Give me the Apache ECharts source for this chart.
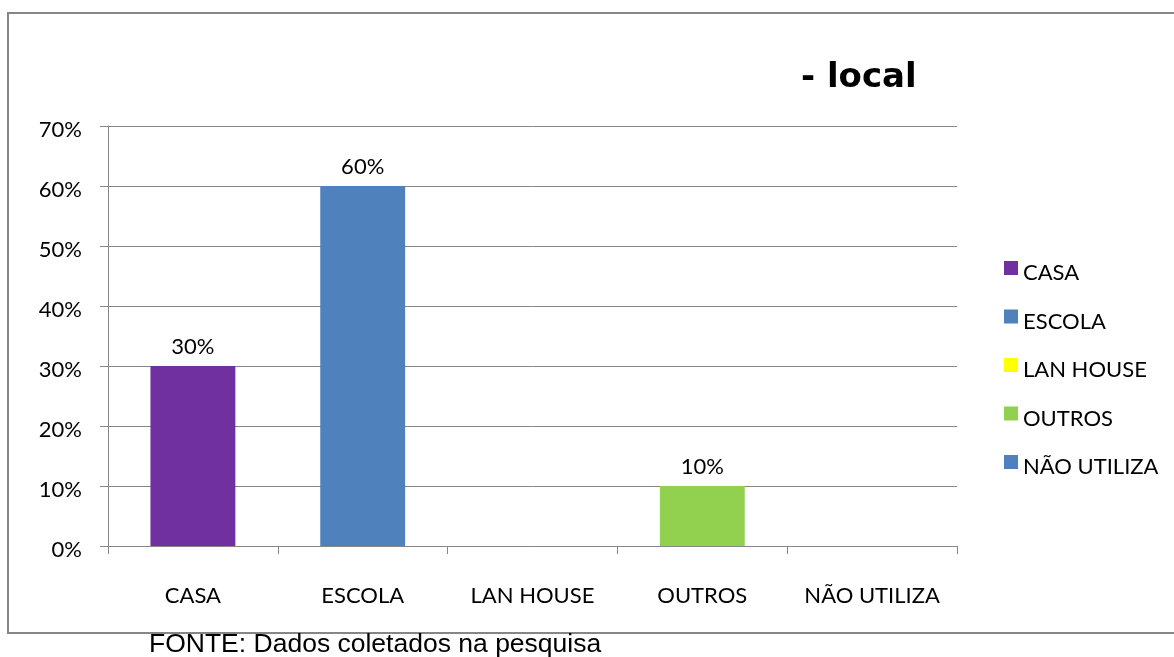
<!DOCTYPE html>
<html>
<head>
<meta charset="utf-8">
<script src="https://cdn.jsdelivr.net/npm/echarts@6/dist/echarts.min.js"></script>
<style>html,body{margin:0;padding:0;background:#fff}#c{width:1174px;height:657px}</style>
</head>
<body>
<div id="c"></div>
<script>
const categories = ['CASA', 'ESCOLA', 'LAN HOUSE', 'OUTROS', 'NÃO UTILIZA'];
const values = [30, 60, 0, 10, 0];
const yTicks = { min: 0, max: 70, interval: 10 };
const titleText = '- local';
const sourceText = 'FONTE: Dados coletados na pesquisa';
const colors = ['#7030A0', '#4F81BD', '#FFFF00', '#92D050', '#4F81BD'];

const FONT = 'Lato';
const GRAY = '#868686';

const series = categories.map((name, i) => ({
  name: name,
  type: 'bar',
  stack: 'all',
  barWidth: '50%',
  itemStyle: { color: colors[i] },
  data: categories.map((c, j) => (j === i ? values[i] : '-')),
  label: {
    show: true,
    position: 'top',
    distance: 8,
    color: '#000',
    fontFamily: FONT,
    fontSize: 22,
    formatter: p => (p.value > 0 ? p.value + '%' : '')
  }
}));

const chart = echarts.init(document.getElementById('c'), null, { renderer: 'canvas' });
chart.setOption({
  animation: false,
  backgroundColor: '#fff',
  title: {
    text: titleText,
    left: 801,
    top: 61,
    padding: 0,
    textStyle: { fontFamily: 'DejaVu Sans', fontWeight: 'bold', fontSize: 34, color: '#000' }
  },
  legend: {
    orient: 'vertical',
    left: 999,
    top: 247,
    itemWidth: 14,
    itemHeight: 14,
    itemGap: 16.5,
    icon: 'rect',
    data: categories.map((n, i) => ({ name: n, itemStyle: { color: colors[i] } })),
    formatter: n => '{a|' + n + '}',
    textStyle: {
      fontFamily: FONT, fontSize: 22, color: '#000',
      rich: { a: { fontFamily: FONT, fontSize: 22, color: '#000', lineHeight: 22, padding: [10, 0, 0, 0] } }
    }
  },
  grid: { left: 108, right: 1174 - 957, top: 126, bottom: 657 - 546, containLabel: false },
  xAxis: {
    type: 'category',
    data: categories,
    axisLine: { show: true, lineStyle: { color: GRAY, width: 1 } },
    axisTick: { show: true, length: 8, alignWithLabel: false, lineStyle: { color: GRAY } },
    axisLabel: { fontFamily: FONT, fontSize: 22, color: '#000', margin: 39, interval: 0 },
    splitLine: { show: false }
  },
  yAxis: {
    type: 'value',
    min: yTicks.min,
    max: yTicks.max,
    interval: yTicks.interval,
    axisLine: { show: true, lineStyle: { color: GRAY, width: 1 } },
    axisTick: { show: true, length: 8, lineStyle: { color: GRAY } },
    axisLabel: {
      fontFamily: FONT, fontSize: 22, color: '#000', margin: 26,
      formatter: v => '{a|' + v + '%}',
      rich: { a: { fontFamily: FONT, fontSize: 22, color: '#000', lineHeight: 22, padding: [8, 0, 0, 0] } }
    },
    splitLine: { show: true, lineStyle: { color: GRAY, width: 1 } }
  },
  graphic: [
    {
      type: 'rect',
      shape: { x: 8, y: 13, width: 1220, height: 620 },
      style: { fill: 'none', stroke: GRAY, lineWidth: 2 },
      silent: true
    },
    {
      type: 'text',
      left: 149,
      top: 631,
      style: { text: sourceText, fontFamily: 'Liberation Sans', fontSize: 26.5, fill: '#000' }
    }
  ],
  series: series
});
</script>
</body>
</html>
